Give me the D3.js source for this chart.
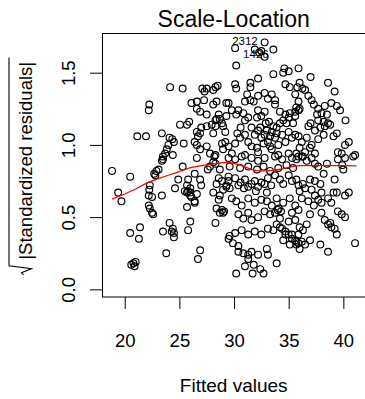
<!DOCTYPE html>
<html>
<head>
<meta charset="utf-8">
<script src="https://cdn.jsdelivr.net/npm/d3@7"></script>
<style>
  body { margin: 0; background: #fff; }
  svg text { font-family: "Liberation Sans", Arial, sans-serif; fill: #000; }
</style>
</head>
<body>
<div id="chart"></div>
<script>
// observations: [fitted value, sqrt(|standardized residual|)]
const obs = [
  [18.84,0.82],[19.4,0.67],[19.7,0.61],[20.5,0.78],[20.5,0.39],[20.6,0.17],[20.8,0.18],[20.9,0.16],[21.0,0.19],
  [21.15,1.06],[21.4,0.43],[21.3,0.35],[21.95,1.06],[22.2,1.24],[22.25,1.28],
  [22.3,0.72],[22.25,0.69],[22.2,0.65],[22.5,0.64],[22.2,0.58],[22.3,0.56],[22.5,0.53],[22.6,0.52],
  [22.7,0.80],[22.8,0.79],[22.9,0.82],[23.1,0.83],
  [23.4,1.08],[23.4,0.89],[23.5,0.90],[23.5,0.92],[23.7,0.94],[23.85,0.97],[24.0,1.0],[24.1,1.05],
  [23.4,0.65],[23.5,0.40],[23.8,0.25],[24.1,0.46],[24.3,0.40],[24.4,0.42],[24.5,0.39],[24.5,0.36],
  [24.15,1.40],[24.6,0.70],[24.9,0.76],[24.4,0.93],[24.35,1.04],[24.5,1.02],
  [25.3,1.39],[25.06,1.14],[25.7,1.14],[25.9,1.16],[25.4,1.01],[25.3,0.85],
  [25.5,0.68],[25.7,0.67],[26.0,0.67],[26.6,0.66],[25.7,0.72],[25.8,0.76],[26.0,0.70],[25.8,0.68],[26.0,0.65],
  [26.1,0.64],[26.4,0.61],[25.7,0.57],[26.0,0.47],[25.8,0.41],[26.9,0.27],[26.7,0.21],
  [26.1,1.29],[26.6,1.30],[26.9,1.23],[26.6,1.25],[26.4,1.02],[26.7,1.06],[26.9,1.08],[26.6,1.09],[26.6,0.91],
  [26.6,1.0],[26.9,0.97],[26.9,0.76],[27.0,0.72],[26.4,0.80],[26.4,0.60],
  [27.0,1.12],[27.5,1.13],[27.96,1.14],[28.3,1.13],[27.1,1.39],[27.3,1.37],[27.5,1.39],[27.26,1.31],[27.5,1.21],
  [27.5,0.99],[27.8,0.94],[28.3,0.93],[28.1,0.88],[27.8,0.85],[28.3,0.87],[28.7,0.83],[28.6,0.77],[28.4,0.73],
  [28.9,0.75],[28.7,0.65],[28.6,0.62],[28.1,0.67],[27.6,0.83],[28.2,0.92],
  [28.1,1.28],[28.4,1.30],[28.6,1.21],[28.4,1.18],[28.3,1.17],[28.7,1.18],[28.9,1.15],[29.0,1.13],[29.2,1.09],[28.1,1.08],
  [28.1,1.38],[28.3,1.40],[28.5,1.41],
  [28.3,0.46],[28.4,0.56],[28.9,0.55],[29.0,0.53],[29.1,0.54],[28.7,0.53],
  [28.9,1.01],[29.0,0.97],[29.3,0.72],[29.0,0.69],[29.5,0.35],[29.5,0.78],
  // top of the cloud
  [32.8,1.71],[30.1,1.67],[32.5,1.65],[33.6,1.66],[32.8,1.61],[31.9,1.66],[32.3,1.64],[30.2,1.55],
  [34.6,1.53],[35.0,1.51],[34.5,1.50],[35.9,1.53],[33.6,1.49],[32.2,1.46],
  [30.1,1.42],[30.2,1.39],[31.5,1.43],[31.5,1.40],[34.7,1.42],[35.1,1.40],[35.6,1.35],
  [33.45,1.35],[33.75,1.31],[31.2,1.35],[31.5,1.31],[32.2,1.34],[32.8,1.36],[33.1,1.32],
  [29.3,1.29],[29.5,1.29],[29.8,1.24],[30.4,1.24],[30.2,1.21],[30.85,1.22],[31.3,1.19],[31.0,1.17],[29.3,1.20],
  [32.2,1.24],[32.8,1.23],[32.5,1.20],[32.1,1.19],
  [33.75,1.28],[34.2,1.23],[34.7,1.21],[35.0,1.19],[34.5,1.17],[34.8,1.15],[35.1,1.22],[35.6,1.23],[35.9,1.30],
  [35.6,1.20],[35.4,1.15],[31.0,1.30],[31.8,1.30],
  // centre, 1.0 - 1.15
  [29.2,1.02],[29.5,0.99],[30.1,1.01],[30.55,1.05],[31.0,1.07],[31.3,1.02],[31.6,0.99],[31.9,1.07],[32.2,1.10],
  [32.5,1.05],[32.8,1.07],[33.1,1.02],[33.45,1.09],[33.75,1.05],[34.05,1.0],[34.4,1.07],[34.7,1.02],[35.0,1.09],
  [35.3,1.05],[35.6,1.07],[32.7,1.01],[33.3,0.99],[32.1,0.98],[33.0,1.10],[33.6,1.13],[33.3,1.06],[33.9,1.08],
  [32.4,1.12],[32.9,1.15],[33.9,1.12],[34.2,1.15],[33.2,1.16],[31.6,1.12],[30.6,1.12],[30.3,1.08],
  // centre, 0.8 - 0.95
  [29.8,0.94],[31.0,0.93],[32.2,0.95],[33.45,0.97],[34.05,0.93],[35.0,0.94],[35.7,0.94],
  [29.5,0.91],[30.1,0.90],[30.7,0.92],[31.6,0.91],[32.2,0.89],[32.8,0.91],[33.75,0.92],[34.4,0.90],[35.3,0.91],[35.9,0.92],
  [29.6,0.85],[30.55,0.84],[31.3,0.85],[32.1,0.83],[32.7,0.85],[33.3,0.82],[34.05,0.84],[34.8,0.86],[35.4,0.84],
  // centre, 0.65 - 0.8
  [29.5,0.75],[29.3,0.71],[29.6,0.70],[30.1,0.77],[30.4,0.72],[31.0,0.76],[31.3,0.71],[31.9,0.75],[32.2,0.71],
  [32.8,0.73],[33.1,0.77],[33.75,0.79],[34.2,0.76],[34.5,0.73],[35.0,0.79],[35.3,0.75],[35.7,0.76],
  [30.6,0.74],[31.6,0.73],[32.5,0.74],[33.4,0.72],[30.9,0.70],[32.0,0.68],[33.0,0.67],
  // centre, 0.45 - 0.65
  [29.8,0.63],[30.2,0.61],[30.7,0.58],[31.3,0.63],[31.9,0.60],[32.5,0.62],[33.0,0.61],[33.45,0.58],[33.9,0.63],
  [34.5,0.60],[35.1,0.63],[35.6,0.58],[34.0,0.55],[34.3,0.54],[34.1,0.56],
  [30.4,0.52],[30.85,0.49],[31.3,0.53],[31.6,0.48],[32.2,0.50],[32.8,0.54],[33.3,0.52],[33.75,0.53],[34.2,0.49],
  [35.0,0.47],[35.6,0.48],[35.3,0.53],
  // centre, low
  [29.6,0.37],[30.1,0.39],[30.7,0.41],[31.3,0.38],[31.9,0.40],[32.5,0.38],[33.1,0.42],[33.6,0.41],[34.2,0.43],
  [34.7,0.38],[35.3,0.38],[35.7,0.33],[35.1,0.31],[34.5,0.34],[29.9,0.32],[30.4,0.30],
  [33.9,0.45],[34.4,0.42],[34.7,0.40],[35.0,0.38],[35.3,0.35],[35.6,0.34],[35.9,0.32],
  [30.4,0.26],[30.85,0.25],[31.3,0.24],[31.6,0.26],[32.2,0.24],[33.0,0.28],[33.1,0.24],[33.9,0.18],[31.8,0.17],
  [32.4,0.14],[30.2,0.11],[31.0,0.16],[31.7,0.11],[32.7,0.11],[31.3,0.21],
  // right side
  [37.0,1.47],[36.0,1.43],[36.25,1.39],[35.8,1.40],[36.5,1.38],[38.6,1.43],[39.2,1.37],
  [36.8,1.34],[37.1,1.31],[37.3,1.28],[37.7,1.25],[38.3,1.27],[38.9,1.29],[39.4,1.27],[39.7,1.24],
  [35.7,1.26],[35.9,1.24],[36.0,1.25],
  [37.6,1.21],[38.0,1.22],[38.5,1.21],[37.7,1.17],[38.2,1.16],[38.6,1.15],[37.0,1.15],[36.8,1.13],[37.4,1.10],
  [37.9,1.12],[38.3,1.13],[38.8,1.14],[40.2,1.17],
  [38.2,1.07],[37.7,1.04],[37.1,1.0],[36.2,1.02],[36.65,1.05],[35.9,1.06],[40.5,1.02],[40.15,1.0],[39.1,1.06],[39.4,1.08],
  [39.5,0.95],[39.85,0.94],[41.07,0.93],[36.0,0.98],[36.5,0.95],[36.95,0.98],[37.4,0.94],[36.3,0.92],
  [35.7,0.90],[36.2,0.92],[36.65,0.89],[37.1,0.91],[37.4,0.87],[38.5,0.87],[39.5,0.90],[40.15,0.91],[40.9,0.92],
  [40.0,0.83],[39.9,0.86],[37.7,0.85],[38.2,0.80],[39.2,0.76],
  [35.9,0.72],[36.3,0.73],[36.95,0.76],[37.4,0.75],[37.9,0.73],[36.5,0.70],[37.1,0.69],[36.0,0.68],[37.4,0.65],
  [38.0,0.67],[36.2,0.63],[36.8,0.61],[37.3,0.58],[37.7,0.62],[38.0,0.60],[38.6,0.63],[38.9,0.60],[39.4,0.67],
  [40.15,0.65],[40.5,0.67],[39.1,0.67],
  [35.9,0.55],[36.95,0.52],[38.0,0.53],[39.5,0.54],[39.85,0.52],[40.15,0.50],
  [38.3,0.48],[38.6,0.45],[38.9,0.43],[39.2,0.42],[39.4,0.38],[38.8,0.46],
  [36.0,0.43],[36.3,0.41],[36.65,0.45],[35.9,0.38],[36.2,0.33],[35.7,0.31],[36.0,0.28],[36.5,0.31],[36.95,0.34],
  [37.9,0.31],[38.6,0.26],[41.07,0.32]
];

// red smoother
const smoothFitted = [18.85,19.5,20,21,22,23,24,25,26,27,28,29,29.5,30,30.5,31,31.5,32,32.5,33,33.5,34,34.5,35,35.5,36,37,38,39,40,41.2];
const smoothValue = [0.625,0.645,0.66,0.695,0.735,0.765,0.79,0.815,0.842,0.857,0.868,0.877,0.877,0.873,0.862,0.848,0.832,0.822,0.82,0.82,0.823,0.828,0.836,0.845,0.852,0.856,0.857,0.857,0.856,0.856,0.855];

const xTicks = [20, 25, 30, 35, 40];
const yTicks = [0, 0.5, 1.0, 1.5];

// labelled observations
const idLabels = ['2312', '1426'];
const idFitted = [31.0, 32.0];
const idValue = [1.695, 1.602];

const W = 365, H = 399;
const plot = { left: 102.3, right: 365.1, top: 33.7, bottom: 297 };

const svg = d3.select('#chart').append('svg')
  .attr('width', W)
  .attr('height', H);

const x = d3.scaleLinear().domain([17.95, 41.99]).range([plot.left, plot.right]);
const y = d3.scaleLinear().domain([-0.053, 1.770]).range([plot.bottom, plot.top]);

// points
svg.append('g')
  .selectAll('circle')
  .data(obs)
  .enter()
  .append('circle')
  .attr('cx', d => x(d[0]))
  .attr('cy', d => y(d[1]))
  .attr('r', 3.4)
  .attr('fill', 'none')
  .attr('stroke', '#000')
  .attr('stroke-width', 1.15);

// smoother
const line = d3.line()
  .x((d, i) => x(smoothFitted[i]))
  .y(d => y(d));

svg.append('path')
  .datum(smoothValue)
  .attr('d', line)
  .attr('fill', 'none')
  .attr('stroke', '#ff0000')
  .attr('stroke-width', 1.3);

// id labels
svg.append('g')
  .selectAll('text')
  .data(idLabels)
  .enter()
  .append('text')
  .attr('x', (d, i) => x(idFitted[i]))
  .attr('y', (d, i) => y(idValue[i]))
  .attr('text-anchor', 'middle')
  .attr('font-size', 11.5)
  .text(d => d);

// box
svg.append('rect')
  .attr('x', 102.5)
  .attr('y', 33.5)
  .attr('width', 263)
  .attr('height', 263.5)
  .attr('fill', 'none')
  .attr('stroke', '#000')
  .attr('stroke-width', 1);

// x axis
const xAxis = svg.append('g')
  .attr('transform', `translate(0,${plot.bottom})`)
  .call(d3.axisBottom(x).tickValues(xTicks).tickSize(12).tickSizeOuter(0).tickFormat(d3.format('d')));
xAxis.select('.domain').remove();
xAxis.attr('font-family', null).attr('font-size', 18.5);
xAxis.selectAll('text').attr('dy', null).attr('y', 49.5);

// y axis
const yAxis = svg.append('g')
  .attr('transform', 'translate(102,0)')
  .call(d3.axisLeft(y).tickValues(yTicks).tickSize(12).tickSizeOuter(0).tickFormat(d3.format('.1f')));
yAxis.select('.domain').remove();
yAxis.attr('font-family', null).attr('font-size', 18.5);
yAxis.selectAll('text')
  .attr('dy', null)
  .attr('x', 0)
  .attr('y', -27)
  .attr('text-anchor', 'middle')
  .attr('transform', 'rotate(-90)');

// title
svg.append('text')
  .attr('x', (plot.left + plot.right) / 2)
  .attr('y', 26.7)
  .attr('text-anchor', 'middle')
  .attr('font-size', 23)
  .text('Scale-Location');

// x label
svg.append('text')
  .attr('x', (plot.left + plot.right) / 2)
  .attr('y', 391.5)
  .attr('text-anchor', 'middle')
  .attr('font-size', 19)
  .text('Fitted values');

// y label: sqrt(|Standardized residuals|)
const yl = svg.append('g')
  .attr('transform', 'translate(31.5,160.8) rotate(-90)');
yl.append('text')
  .attr('x', 0)
  .attr('y', 0)
  .attr('text-anchor', 'middle')
  .attr('font-size', 18.5)
  .text('|Standardized residuals|');
yl.append('path')
  .attr('d', 'M-114,-8 L-112,-10 L-108,0 L-105,-22.5 L103,-22.5')
  .attr('fill', 'none')
  .attr('stroke', '#000')
  .attr('stroke-width', 1.1);
</script>
</body>
</html>
